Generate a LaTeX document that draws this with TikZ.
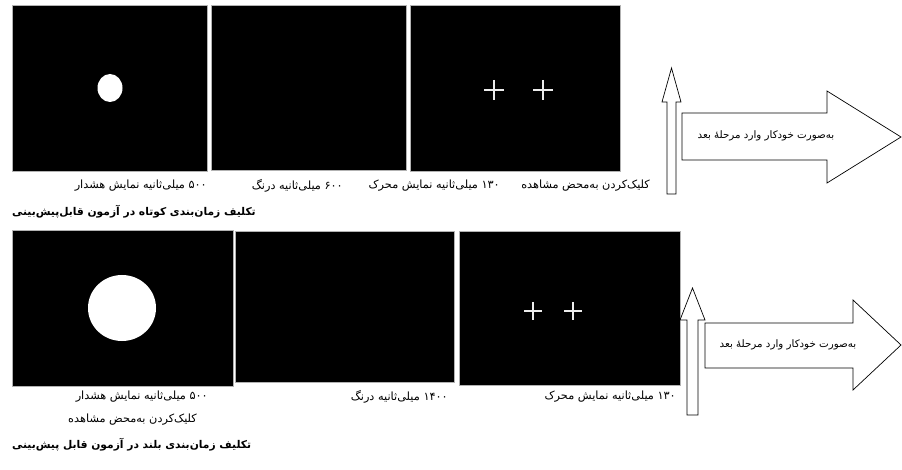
\documentclass[tikz,border=0pt]{standalone}
\usepackage{fontspec}
\newfontfamily\fa[Script=Arabic]{DejaVu Sans}
\TeXXeTstate=1
\begin{document}
\begin{tikzpicture}[x=1pt,y=-1pt,
  screen/.style={fill=black, draw=gray!60, line width=0.8pt},
  blob/.style={fill=white},
  crossmark/.style={draw=gray!15, line width=1.2pt},
  hollowarrow/.style={draw=black, fill=white, line width=0.7pt, line join=miter},
  lbl/.style={font=\fa\fontsize{11.3}{13}\selectfont, inner sep=0pt, anchor=east},
  ttl/.style={font=\fa\bfseries\fontsize{10.7}{12}\selectfont, inner sep=0pt, anchor=west},
  arrowtext/.style={font=\fa\fontsize{10.3}{12}\selectfont, inner sep=0pt}]
\useasboundingbox (0,0) rectangle (902,470);

% ---------- top row ----------
\draw[screen] (12,5) rectangle (207,171);
\fill[blob] (110,88) ellipse [x radius=12.5pt, y radius=14pt];
\draw[screen] (211,5) rectangle (406,170);
\draw[screen] (410,5) rectangle (620,171);
\draw[crossmark] (484,90) -- (504,90) (494,80) -- (494,100);
\draw[crossmark] (533,90) -- (553,90) (543,80) -- (543,100);

\draw[hollowarrow] (667,194) -- (667,102) -- (662,102) -- (671.5,68) -- (681,102) -- (676,102) -- (676,194) -- cycle;
\draw[hollowarrow] (682,113) -- (827,113) -- (827,91) -- (901,137) -- (827,183) -- (827,160) -- (682,160) -- cycle;
\node[arrowtext] (a1) at (766,136) {\beginR به‌صورت خودکار وارد مرحلهٔ بعد\endR};

\node[lbl] (l1) at (207,186) {\beginR ۵۰۰ میلی‌ثانیه نمایش هشدار\endR};
\node[lbl] (l2) at (343,186) {\beginR ۶۰۰ میلی‌ثانیه درنگ\endR};
\node[lbl] (l3) at (500,186) {\beginR ۱۳۰ میلی‌ثانیه نمایش محرک\endR};
\node[lbl] (l4) at (650,186) {\beginR کلیک‌کردن به‌محض مشاهده\endR};
\node[ttl] (t1) at (12,212) {\beginR تکلیف زمان‌بندی کوتاه در آزمون قابل‌پیش‌بینی\endR};

% ---------- bottom row ----------
\draw[screen] (12,230) rectangle (233,386);
\fill[blob] (122,308) ellipse [x radius=34pt, y radius=33pt];
\draw[screen] (235,231) rectangle (454,382);
\draw[screen] (459,231) rectangle (680,385);
\draw[crossmark] (524,311) -- (542,311) (533,302) -- (533,320);
\draw[crossmark] (564,311) -- (582,311) (573,302) -- (573,320);

\draw[hollowarrow] (687,415) -- (687,320) -- (680,320) -- (692.5,288) -- (705,320) -- (698,320) -- (698,415) -- cycle;
\draw[hollowarrow] (705,323) -- (853,323) -- (853,300) -- (901,345) -- (853,390) -- (853,368) -- (705,368) -- cycle;
\node[arrowtext] (a2) at (788,345) {\beginR به‌صورت خودکار وارد مرحلهٔ بعد\endR};

\node[lbl] (m1) at (208,397) {\beginR ۵۰۰ میلی‌ثانیه نمایش هشدار\endR};
\node[lbl] (m2) at (448,397) {\beginR ۱۴۰۰ میلی‌ثانیه درنگ\endR};
\node[lbl] (m3) at (676,397) {\beginR ۱۳۰ میلی‌ثانیه نمایش محرک\endR};
\node[lbl] (m4) at (197,420) {\beginR کلیک‌کردن به‌محض مشاهده\endR};
\node[ttl] (t2) at (12,445) {\beginR تکلیف زمان‌بندی بلند در آزمون قابل پیش‌بینی\endR};
\end{tikzpicture}
\end{document}
